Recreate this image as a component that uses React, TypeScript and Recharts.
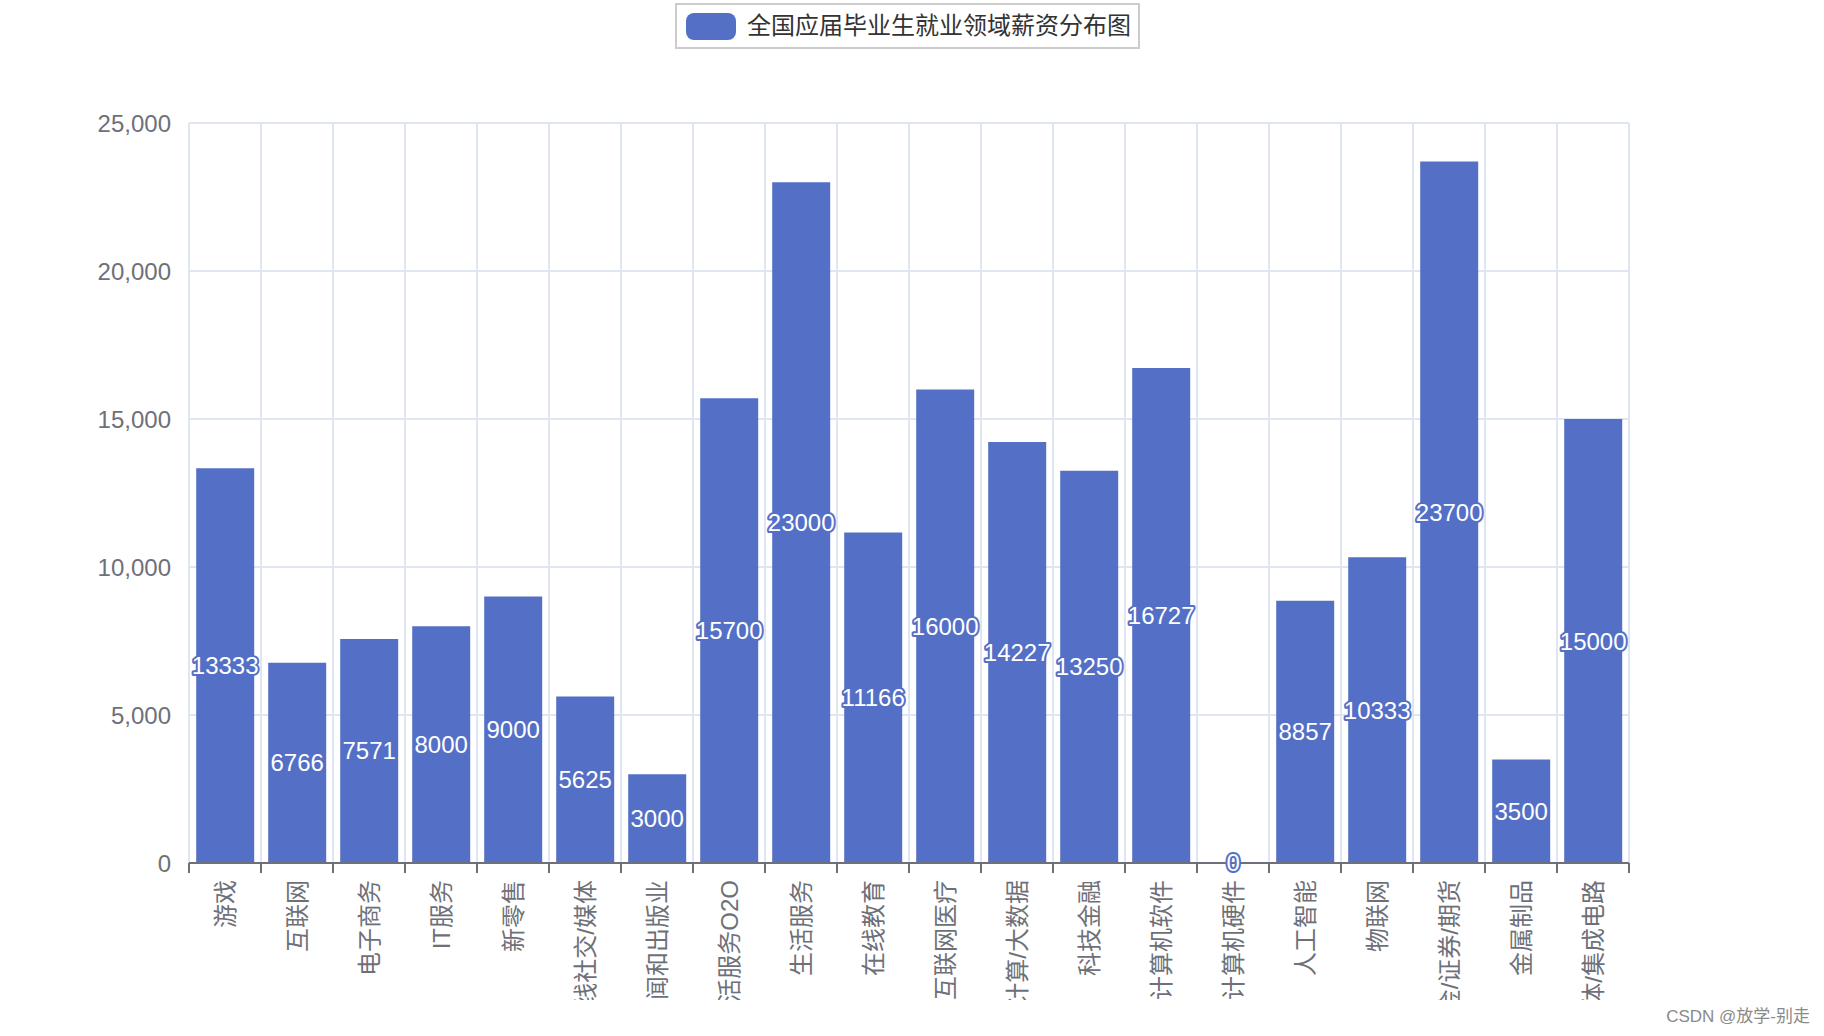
import React from 'react';
import { BarChart, Bar, XAxis, YAxis, CartesianGrid, LabelList } from 'recharts';

// 行业类别 (x axis)
const categories = [
  '游戏', '互联网', '电子商务', 'IT服务', '新零售', '在线社交/媒体', '新闻和出版业',
  '生活服务O2O', '生活服务', '在线教育', '互联网医疗', '云计算/大数据', '科技金融',
  '计算机软件', '计算机硬件', '人工智能', '物联网', '基金/证券/期货', '金属制品', '半导体/集成电路',
];

// 平均薪资
const salaries = [
  13333, 6766, 7571, 8000, 9000, 5625, 3000, 15700, 23000, 11166,
  16000, 14227, 13250, 16727, 0, 8857, 10333, 23700, 3500, 15000,
];

const yTicks = [0, 5000, 10000, 15000, 20000, 25000];
const seriesName = '全国应届毕业生就业领域薪资分布图';
const watermark = 'CSDN @放学-别走';

const data = categories.map((name, i) => ({ name, salary: salaries[i] }));

const W = 1824;
const H = 1000;
const Y_AXIS_W = 189;
const X_AXIS_H = 137;
const margin = { top: 123, right: 195, bottom: 0, left: 0 };
const BAND = (W - Y_AXIS_W - margin.right) / categories.length;

const BAR = '#5470c6';
const AXIS = '#6e7079';
const GRID = '#e0e6f1';
const FONT = '"Liberation Sans", "Noto Sans CJK SC", sans-serif';

function CategoryTick(props: any) {
  const { x, y, payload, index } = props;
  const left = x - BAND / 2;
  const right = x + BAND / 2;
  return (
    <g>
      <line x1={left} x2={left} y1={y} y2={y + 10} stroke={AXIS} strokeWidth={2} />
      {index === categories.length - 1 && (
        <line x1={right} x2={right} y1={y} y2={y + 10} stroke={AXIS} strokeWidth={2} />
      )}
      <text
        transform={`translate(${x},${y + 17}) rotate(-90)`}
        textAnchor="end"
        dominantBaseline="central"
        fontSize={24}
        fill={AXIS}
        fontFamily={FONT}
      >
        {payload.value}
      </text>
    </g>
  );
}

function ValueLabel(props: any) {
  const vb = props.viewBox ?? props;
  const x = vb.x ?? props.x;
  const y = vb.y ?? props.y;
  const width = vb.width ?? props.width ?? 0;
  const height = vb.height ?? props.height ?? 0;
  return (
    <text
      x={x + width / 2}
      y={y + height / 2}
      textAnchor="middle"
      dominantBaseline="central"
      fontSize={24}
      fill="#fff"
      stroke={BAR}
      strokeWidth={4}
      strokeLinejoin="round"
      paintOrder="stroke"
      fontFamily={FONT}
    >
      {props.value}
    </text>
  );
}

export default function App() {
  return (
    <div
      style={{
        position: 'absolute',
        left: 0,
        top: 0,
        width: W,
        height: 1036,
        background: '#fff',
        overflow: 'hidden',
        fontFamily: FONT,
      }}
    >
      {/* legend */}
      <div
        style={{
          position: 'absolute',
          left: 675,
          top: 3,
          width: 465,
          height: 46,
          boxSizing: 'border-box',
          border: '2px solid #ccc',
          display: 'flex',
          alignItems: 'center',
          paddingLeft: 9,
        }}
      >
        <div style={{ width: 50, height: 27, borderRadius: 8, background: BAR, marginRight: 11 }} />
        <span style={{ fontSize: 24, color: '#333', lineHeight: '24px' }}>{seriesName}</span>
      </div>

      <div style={{ position: 'absolute', left: 0, top: 0, width: W, height: H, overflow: 'hidden' }}>
        <BarChart width={W} height={H} data={data} margin={margin} barCategoryGap="10%">
          <CartesianGrid
            stroke={GRID}
            strokeWidth={2}
            verticalCoordinatesGenerator={({ offset }: any) =>
              Array.from({ length: categories.length + 1 }, (_, i) => offset.left + (i * offset.width) / categories.length)
            }
          />
          <Bar dataKey="salary" name={seriesName} fill={BAR} minPointSize={1} isAnimationActive={false}>
            <LabelList dataKey="salary" content={<ValueLabel />} />
          </Bar>
          <XAxis
            dataKey="name"
            interval={0}
            height={X_AXIS_H}
            tickSize={0}
            tickMargin={0}
            tickLine={false}
            axisLine={{ stroke: AXIS, strokeWidth: 2 }}
            tick={<CategoryTick />}
          />
          <YAxis
            width={Y_AXIS_W}
            domain={[0, 25000]}
            ticks={yTicks}
            axisLine={false}
            tickLine={false}
            tickSize={0}
            tickMargin={18}
            tickFormatter={(v: number) => v.toLocaleString('en-US')}
            tick={{ fill: AXIS, fontSize: 24, fontFamily: FONT }}
          />
        </BarChart>
      </div>

      <div
        style={{
          position: 'absolute',
          right: 14,
          top: 1006,
          fontSize: 17,
          lineHeight: '22px',
          color: '#8a8a8a',
        }}
      >
        {watermark}
      </div>
    </div>
  );
}
